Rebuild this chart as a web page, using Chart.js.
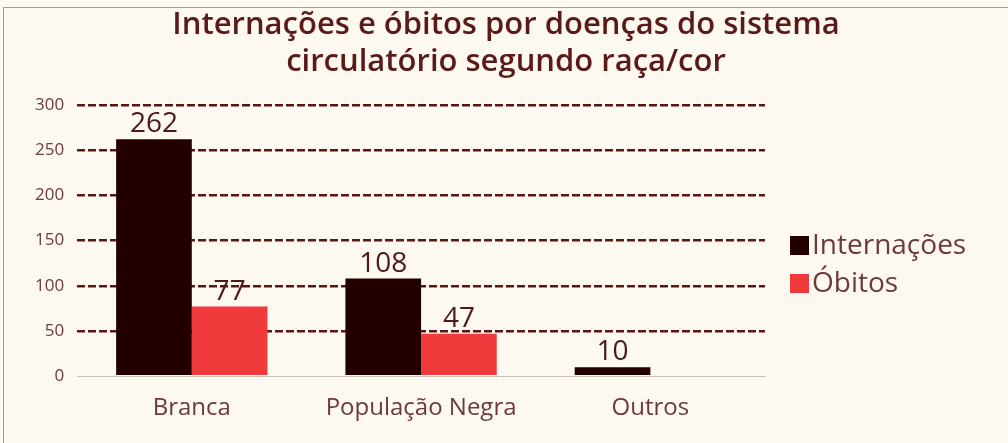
<!DOCTYPE html>
<html>
<head>
<meta charset="utf-8">
<script src="https://cdn.jsdelivr.net/npm/chart.js@4.4.1/dist/chart.umd.min.js"></script>
<style>
  html, body { margin: 0; padding: 0; background: #fdf8f0; overflow: hidden; }
  #wrap { position: absolute; left: 3px; top: 7px; width: 1020px; height: 450px; border: 1px solid #a89a8c; box-sizing: border-box; }
  canvas { position: absolute; left: -4px; top: -8px; }
</style>
</head>
<body>
<div id="wrap"><canvas id="grafico" width="1008" height="443"></canvas></div>
<script>
// dati
const categorie = ["Branca", "População Negra", "Outros"];
const internacoes = [262, 108, 10];
const obitos = [77, 47, null];
const titolo = ["Internações e óbitos por doenças do sistema", "circulatório segundo raça/cor"];

const corTesto = "#5b1a1a";
const corAssi = "#6b3b3b";
const FONT = "Open Sans";

// titolo, etichette sopra le barre, legenda a destra
const decorazioni = {
  id: "decorazioni",
  afterDatasetsDraw(chart) {
    const ctx = chart.ctx;
    ctx.save();

    // titolo centrato sulla pagina
    ctx.font = "600 31px " + FONT;
    ctx.fillStyle = corTesto;
    ctx.textAlign = "center";
    ctx.textBaseline = "middle";
    titolo.forEach((riga, k) => ctx.fillText(riga, chart.width / 2 + 2, 25 + k * 37));

    // valori
    ctx.font = "28px " + FONT;
    ctx.fillStyle = "#4a1a1a";
    ctx.textBaseline = "bottom";
    chart.data.datasets.forEach((ds, i) => {
      const meta = chart.getDatasetMeta(i);
      meta.data.forEach((bar, j) => {
        const v = ds.data[j];
        if (v == null) return;
        ctx.fillText(String(v), bar.x, bar.y - 1);
      });
    });

    // legenda
    const x0 = chart.chartArea.right + 25;
    let y = 245;
    ctx.textAlign = "left";
    ctx.textBaseline = "middle";
    ctx.font = "28px " + FONT;
    chart.data.datasets.forEach(ds => {
      ctx.fillStyle = ds.backgroundColor;
      ctx.fillRect(x0, y - 9, 19, 19);
      ctx.fillStyle = corAssi;
      ctx.fillText(ds.label, x0 + 22, y + 1);
      y += 38;
    });
    ctx.restore();
  }
};

new Chart(document.getElementById("grafico"), {
  type: "bar",
  data: {
    labels: categorie,
    datasets: [
      { label: "Internações", data: internacoes, backgroundColor: "#230000", borderWidth: 0 },
      { label: "Óbitos", data: obitos, backgroundColor: "#f0393b", borderWidth: 0 }
    ]
  },
  options: {
    responsive: false,
    animation: false,
    layout: { padding: { left: 22, right: 243, top: 105, bottom: 10 } },
    datasets: { bar: { categoryPercentage: 0.66, barPercentage: 1 } },
    scales: {
      x: {
        grid: { display: false },
        border: { color: "#c8c0b8", width: 1 },
        ticks: { color: corAssi, font: { size: 24, family: FONT }, padding: 10 }
      },
      y: {
        min: 0, max: 300,
        ticks: { stepSize: 50, color: corAssi, font: { size: 17, family: FONT }, padding: 13 },
        border: { display: false, dash: [8, 3] },
        grid: {
          color: ctx => ctx.tick.value === 0 ? "rgba(0,0,0,0)" : "#5a1616",
          lineWidth: 2.5,
          drawTicks: false
        }
      }
    },
    plugins: {
      title: { display: false },
      legend: { display: false },
      tooltip: { enabled: false }
    }
  },
  plugins: [decorazioni]
});
</script>
</body>
</html>
